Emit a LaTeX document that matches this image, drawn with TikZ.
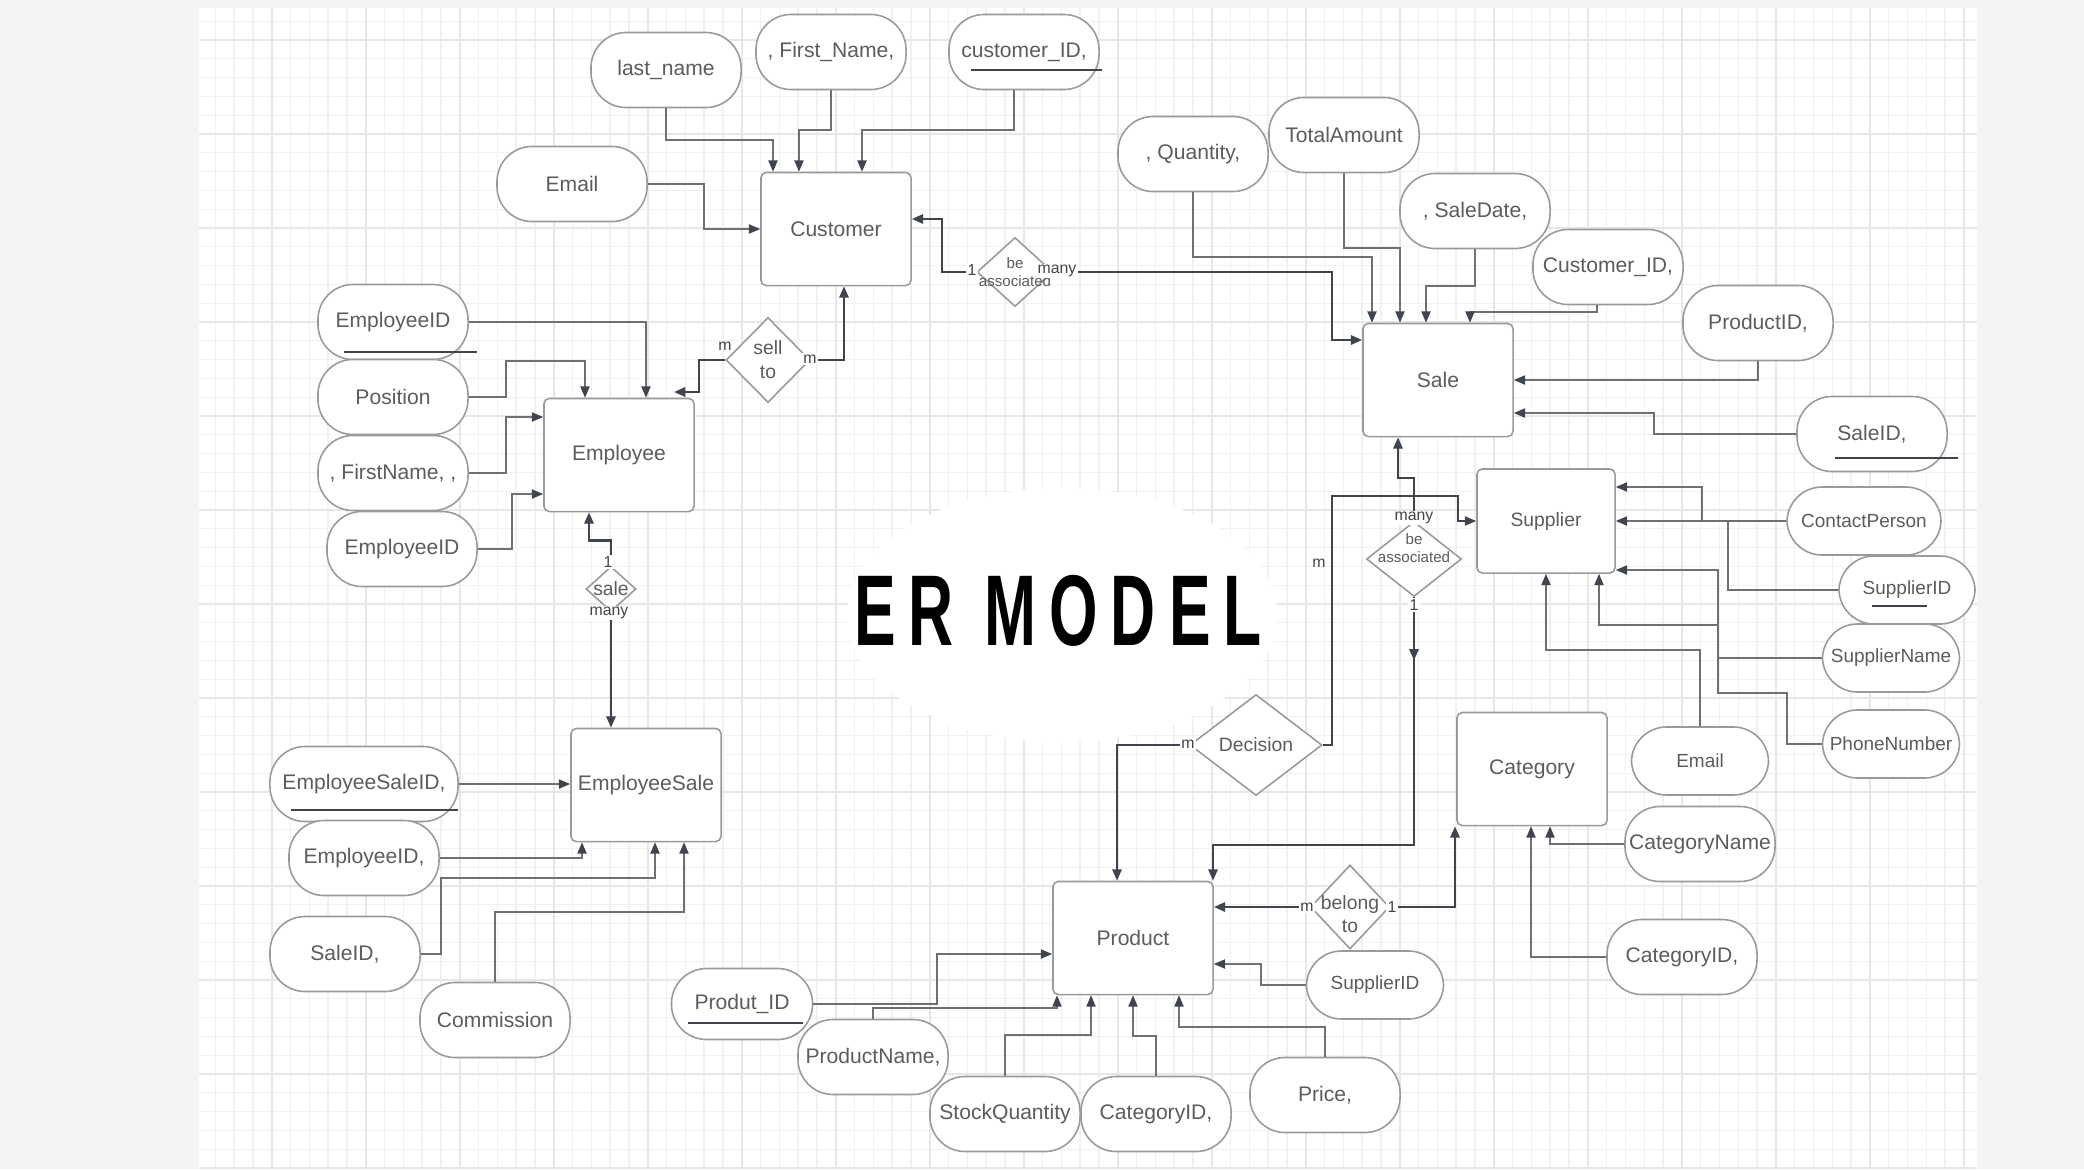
\documentclass[tikz,border=0pt]{standalone}
\usepackage{fontspec}
\setmainfont{Liberation Sans}
\newfontfamily\titlefont[FakeStretch=0.62,LetterSpace=13]{Liberation Sans}
\usetikzlibrary{shapes.geometric,arrows.meta,decorations.markings}

\definecolor{bggray}{HTML}{F3F4F6}
\definecolor{gridminor}{HTML}{F1F1F1}
\definecolor{gridmajor}{HTML}{E7E7E7}
\definecolor{shapecol}{HTML}{9A9A9A}
\definecolor{txtcol}{HTML}{5C5C5C}
\definecolor{attrcol}{HTML}{707070}
\definecolor{relcol}{HTML}{3F444D}
\definecolor{cardcol}{HTML}{444444}

\tikzset{
	entity/.style={draw=shapecol, line width=0.45pt, fill=white, rounded corners=1.5pt,
		minimum width=1.5cm, minimum height=1.13cm, inner sep=0pt, text=txtcol,
		font=\fontsize{6}{7}\selectfont},
	attr/.style={draw=shapecol, line width=0.45pt, fill=white, rounded corners=10pt,
		minimum width=1.5cm, minimum height=0.75cm, inner sep=0pt, text=txtcol,
		font=\fontsize{6}{7}\selectfont},
	attrsmall/.style={attr, minimum width=1.37cm, minimum height=0.68cm,
		font=\fontsize{5.4}{6.5}\selectfont},
	rel/.style={diamond, draw=shapecol, line width=0.45pt, fill=white, inner sep=0pt},
	rellabel/.style={text=txtcol, align=center, inner sep=0pt, font=\fontsize{5.5}{6.8}\selectfont},
	rellabelsmall/.style={text=txtcol, align=center, inner sep=0pt, font=\fontsize{4.3}{5.1}\selectfont},
	card/.style={text=cardcol, inner sep=0.4pt, font=\fontsize{4.5}{5}\selectfont},
	attrline/.style={draw=attrcol, line width=0.45pt, -{Triangle[length=3.2pt,width=2.6pt,color=relcol]}},
	relline/.style={draw=relcol, line width=0.7pt, -{Triangle[length=3.2pt,width=2.6pt]}},
	midarrow/.style={postaction={decorate}, decoration={markings,
		mark=at position 0.63cm with {\arrow{Triangle[length=3.2pt,width=2.6pt]}}}},
	uline/.style={draw=relcol, line width=0.5pt},
}

\begin{document}
\begin{tikzpicture}[x=0.01cm, y=-0.01cm]
\useasboundingbox (0,0) rectangle (2084,1169);
%========================================
% Canvas and grid
%========================================
\fill[bggray] (0,0) rectangle (2084,1169);
\fill[white] (199,8) rectangle (1977,1169);
\foreach \k in {-3,...,90}
\draw[gridminor, line width=0.35pt] ({271.7+18.8*\k},8) -- ({271.7+18.8*\k},1169);
\foreach \k in {-1,...,60}
\draw[gridminor, line width=0.35pt] (199,{40+18.8*\k}) -- (1977,{40+18.8*\k});
\foreach \k in {0,5,...,90}
\draw[gridmajor, line width=0.5pt] ({271.7+18.8*\k},8) -- ({271.7+18.8*\k},1169);
\foreach \k in {0,5,...,60}
\draw[gridmajor, line width=0.5pt] (199,{40+18.8*\k}) -- (1977,{40+18.8*\k});
% white patch behind the title
\fill[white] (1062,615) ellipse (215 and 127);
\node[font=\titlefont\bfseries\fontsize{28.6}{31}\selectfont] (title) at (1058,611) {ER MODEL};

%========================================
% Customer
%========================================
\node[entity] (customer) at (836,229) {Customer};
\node[attr] (custlast) at (666,70) {last\_name};
\node[attr] (custfirst) at (831,52) {, First\_Name,};
\node[attr] (custid) at (1024,52) {customer\_ID,};
\node[attr] (custemail) at (572,184) {Email};
\draw[uline] (custid.center) ++(-53,18) -- ++(131,0);
\draw[attrline] (custlast) |- (773,140) -- (773,0 |- customer.north);
\draw[attrline] (custfirst) |- (799,130) -- (799,0 |- customer.north);
\draw[attrline] (custid.south -| 1014,0) |- (862,130) -- (862,0 |- customer.north);
\draw[attrline] (custemail) -| (704,229) -- (customer.west);

%========================================
% Employee
%========================================
\node[entity] (employee) at (619,455) {Employee};
\node[attr] (empid) at (393,322) {EmployeeID};
\node[attr] (emppos) at (393,397) {Position};
\node[attr] (empfirst) at (393,473) {, FirstName, ,};
\node[attr] (empid2) at (402,549) {EmployeeID};
\draw[uline] (empid.center) ++(-49,30) -- ++(133,0);
\draw[attrline] (empid) -| (646,0 |- employee.north);
\draw[attrline] (emppos) -| (506,361) -| (585,0 |- employee.north);
\draw[attrline] (empfirst) -| (506,417) -- (employee.west |- 0,417);
\draw[attrline] (empid2) -| (512,494) -- (employee.west |- 0,494);

%========================================
% EmployeeSale
%========================================
\node[entity] (empsale) at (646,785) {EmployeeSale};
\node[attr, minimum width=1.88cm] (esid) at (364,784) {EmployeeSaleID,};
\node[attr] (esemp) at (364,858) {EmployeeID,};
\node[attr] (essale) at (345,954) {SaleID,};
\node[attr] (escomm) at (495,1020) {Commission};
\draw[uline] (esid.center) ++(-73,26) -- ++(167,0);
\draw[attrline] (esid) -- (esid -| empsale.west);
\draw[attrline] (esemp) -| (582,0 |- empsale.south);
\draw[attrline] (essale) -| (441,878) -| (655,0 |- empsale.south);
\draw[attrline] (escomm) |- (684,912) -- (684,0 |- empsale.south);

%========================================
% Sale
%========================================
\node[entity] (sale) at (1438,380) {Sale};
\node[attr] (saleqty) at (1193,154) {, Quantity,};
\node[attr] (saletotal) at (1344,135) {TotalAmount};
\node[attr] (saledate) at (1475,211) {, SaleDate,};
\node[attr] (salecust) at (1608,267) {Customer\_ID,};
\node[attr] (saleprod) at (1758,323) {ProductID,};
\node[attr] (saleid) at (1872,434) {SaleID,};
\draw[uline] (saleid.center) ++(-37,24) -- ++(123,0);
\draw[attrline] (saleqty) |- (1372,257) -- (1372,0 |- sale.north);
\draw[attrline] (saletotal) |- (1400,248) -- (1400,0 |- sale.north);
\draw[attrline] (saledate) |- (1426,286) -- (1426,0 |- sale.north);
\draw[attrline] (salecust.south -| 1597,0) |- (1470,312) -- (1470,0 |- sale.north);
\draw[attrline] (saleprod) |- (sale.east |- 0,380);
\draw[attrline] (saleid) -| (1654,413) -- (sale.east |- 0,413);

%========================================
% Supplier
%========================================
\node[entity, minimum width=1.38cm, minimum height=1.04cm, font=\fontsize{5.5}{6.5}\selectfont] (supplier) at (1546,521) {Supplier};
\node[attrsmall, minimum width=1.54cm] (supcontact) at (1864,521) {ContactPerson};
\node[attrsmall, minimum width=1.36cm] (supid) at (1907,590) {SupplierID};
\node[attrsmall] (supname) at (1891,658) {SupplierName};
\node[attrsmall] (supphone) at (1891,744) {PhoneNumber};
\node[attrsmall] (supemail) at (1700,761) {Email};
\draw[uline] (supid.center) ++(-35,16) -- ++(55,0);
\draw[attrline] (supcontact) -| (1702,487) -- (supplier.east |- 0,487);
\draw[attrline] (supid) -| (1728,521) -- (supplier.east |- 0,521);
\draw[attrline] (supname) -| (1718,570) -- (supplier.east |- 0,570);
\draw[attrline] (supphone) -| (1787,693) -| (1718,625) -| (1599,0 |- supplier.south);
\draw[attrline] (supemail) |- (1546,650) -- (supplier.south);

%========================================
% Category
%========================================
\node[entity] (category) at (1532,769) {Category};
\node[attr] (catname) at (1700,844) {CategoryName};
\node[attr] (catid) at (1682,957) {CategoryID,};
\draw[attrline] (catname) -| (1550,0 |- category.south);
\draw[attrline] (catid) -| (1531,0 |- category.south);

%========================================
% Product
%========================================
\node[entity, minimum width=1.6cm] (product) at (1133,938) {Product};
\node[attr, minimum width=1.41cm, minimum height=0.71cm] (prodid) at (742,1004) {Produt\_ID};
\node[attr] (prodname) at (873,1057) {ProductName,};
\node[attr] (prodstock) at (1005,1114) {StockQuantity};
\node[attr] (prodcat) at (1156,1114) {CategoryID,};
\node[attr] (prodprice) at (1325,1095) {Price,};
\node[attrsmall] (prodsup) at (1375,985) {SupplierID};
\draw[uline] (prodid.center) ++(-54,19) -- ++(115,0);
\draw[attrline] (prodid) -| (937,954) -- (product.west |- 0,954);
\draw[attrline] (prodname) |- (1057,1008) -- (1057,0 |- product.south);
\draw[attrline] (prodstock) |- (1091,1035) -- (1091,0 |- product.south);
\draw[attrline] (prodcat) |- (1133,1036) -- (1133,0 |- product.south);
\draw[attrline] (prodprice) |- (1179,1027) -- (1179,0 |- product.south);
\draw[attrline] (prodsup) -| (1261,964) -- (product.east |- 0,964);

%========================================
% Relationships
%========================================
\node[rel, minimum width=0.84cm, minimum height=0.85cm, label={[rellabel]center:sell\\to}] (sellto) at (768,360) {};
\node[rel, minimum width=0.5cm, minimum height=0.45cm, label={[rellabel]center:sale}] (salerel) at (611,589) {};
\node[rel, minimum width=0.76cm, minimum height=0.69cm, label={[rellabelsmall]center:be\\associated}] (assoccs) at (1015,272) {};
\node[rel, minimum width=0.95cm, minimum height=0.75cm, label={[rellabelsmall,yshift=3pt]center:be\\associated}] (assocss) at (1414,559) {};
\node[rel, minimum width=1.32cm, minimum height=1.01cm, label={[rellabel]center:Decision}] (decision) at (1256,745) {};
\node[rel, minimum width=0.79cm, minimum height=0.84cm, label={[rellabel,yshift=-2pt]center:belong\\to}] (belongto) at (1350,907) {};
\coordinate (sellend) at (674,392);

\draw[relline] (sellto.west) -| (699,392) -- (sellend);
\draw[relline] (sellto.east) -| (844,0 |- customer.south);
\draw[relline] (salerel.north) -- ++(0,-25) -| (589,0 |- employee.south);
\draw[relline] (salerel.south) -- (salerel.south |- empsale.north);
\draw[relline] (assoccs.west) -- (942,272) |- (customer.east |- 0,219);
\draw[relline] (assoccs.east) -| (1332,340) -- (sale.west |- 0,340);
\draw[relline] (assocss.north) -- (1414,478) -| (1398,0 |- sale.south);
\draw[relline, midarrow] (assocss.south) -- (1414,845) -| (1213,0 |- product.north);
\draw[relline] (decision.west) -| (1117,0 |- product.north);
\draw[relline, line width=0.45pt] (decision.east) -| (1332,496) -| (1458,521) -- (supplier.west |- 0,521);
\draw[relline] (belongto.west) -- (belongto.west -| product.east);
\draw[relline] (belongto.east) -| (1455,0 |- category.south);

% cardinalities
\node[card] (csm1) at (725,346) {m};
\node[card, fill=white] (csm2) at (810,359) {m};
\node[card, fill=white] (sr1) at (608,562) {1};
\node[card, fill=white] (srmany) at (609,613) {many};
\node[card, fill=white] (ac1) at (972,270) {1};
\node[card, fill=white] (acmany) at (1057,271) {many};
\node[card, fill=white] (asmany) at (1414,518) {many};
\node[card, fill=white] (as1) at (1414,605) {1};
\node[card, fill=white] (dm1) at (1188,744) {m};
\node[card] (dm2) at (1319,563) {m};
\node[card, fill=white] (bm) at (1307,907) {m};
\node[card, fill=white] (b1) at (1392,907) {1};
\end{tikzpicture}
\end{document}
